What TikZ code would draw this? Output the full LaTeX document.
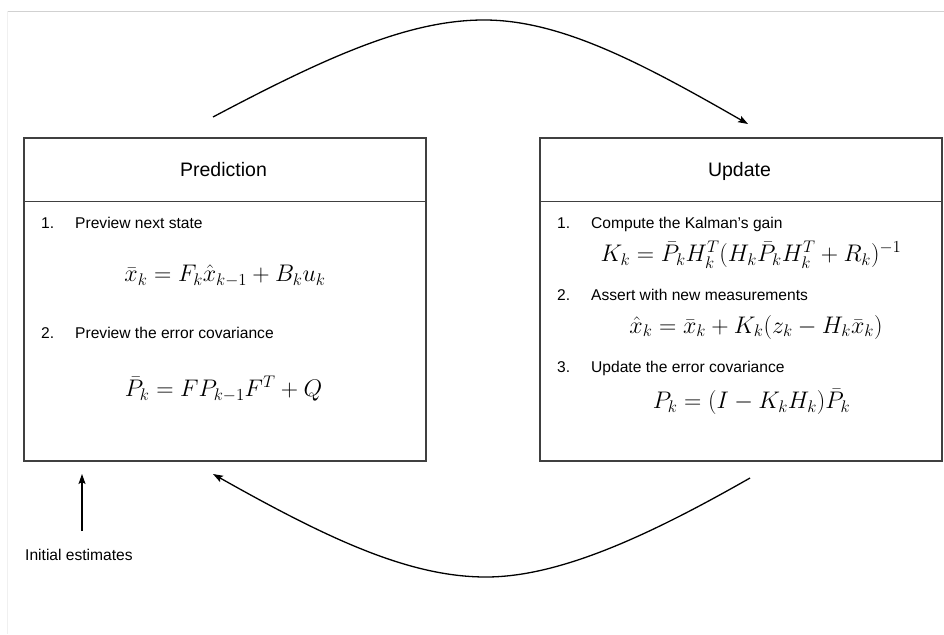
\RequirePackage{fix-cm}
\documentclass[tikz,border=0pt]{standalone}
\usepackage{amsmath}
\usepackage[no-math]{fontspec}
\setmainfont{Liberation Sans}
\usetikzlibrary{arrows.meta}
\tikzset{
 frame/.style={draw=black!75, line width=1.6pt, minimum width=402pt, minimum height=323pt, inner sep=0pt, anchor=north west},
 divider/.style={draw=black!75, line width=1.6pt},
 title/.style={font=\fontsize{19.5}{22}\selectfont, inner sep=0pt, anchor=base},
 item/.style={font=\fontsize{15.6}{18}\selectfont, inner sep=0pt, anchor=base west},
 eq/.style={font=\fontsize{24}{28}\selectfont, inner sep=0pt},
 flow/.style={line width=1.3pt, -{Stealth[length=10pt,width=7pt,inset=2pt]}},
}
\begin{document}
\begin{tikzpicture}[x=1pt,y=-1pt]
\useasboundingbox (0,0) rectangle (944,634);
\draw[black!18, line width=1pt] (7,11.5) -- (944,11.5);
\draw[black!6, line width=1pt] (7.5,11.5) -- (7.5,634);
% boxes
\node[frame] (pred) at (23,137) {};
\node[frame] (upd) at (539,137) {};
\draw[divider] (pred.west |- 0,201.5) -- (pred.east |- 0,201.5);
\draw[divider] (upd.west |- 0,201.5) -- (upd.east |- 0,201.5);
\node[title] (predT) at (223.5,176.5) {Prediction};
\node[title] (updT) at (739.5,176.5) {Update};
% prediction content
\node[item] (p1n) at (41,228.5) {1.};
\node[item] (p1t) at (75,228.5) {Preview next state};
\node[eq] (p1e) at (225,276) {$\bar{x}_k = F_k\hat{x}_{k-1} + B_k u_k$};
\node[item] (p2n) at (41,338) {2.};
\node[item] (p2t) at (75,338) {Preview the error covariance};
\node[eq] (p2e) at (223.5,389) {$\bar{P}_k = FP_{k-1}F^T + Q$};
% update content
\node[item] (u1n) at (557,228.5) {1.};
\node[item] (u1t) at (591,228.5) {Compute the Kalman's gain};
\node[eq] (u1e) at (751,255) {$K_k = \bar{P}_kH_k^T(H_k\bar{P}_kH_k^T + R_k)^{-1}$};
\node[item] (u2n) at (557,300.5) {2.};
\node[item] (u2t) at (591,300.5) {Assert with new measurements};
\node[eq] (u2e) at (756,327) {$\hat{x}_k = \bar{x}_k + K_k(z_k - H_k\bar{x}_k)$};
\node[item] (u3n) at (557,372.5) {3.};
\node[item] (u3t) at (591,372.5) {Update the error covariance};
\node[eq] (u3e) at (751.5,402) {$P_k = (I - K_kH_k)\bar{P}_k$};
% arcs
\coordinate (topS) at (213,117);
\coordinate (topM) at (484,20);
\coordinate (topE) at (748,124);
\draw[flow] (topS) .. controls (330,55) and (410,20) .. (topM) .. controls (560,20) and (640,62) .. (topE);
\coordinate (botS) at (750,478);
\coordinate (botM) at (486,577);
\coordinate (botE) at (213,474);
\draw[flow] (botS) .. controls (650,535) and (560,577) .. (botM) .. controls (410,577) and (330,540) .. (botE);
% initial estimates
\node[item] (init) at (25,560.5) {Initial estimates};
\coordinate (initS) at (82,531);
\coordinate (initE) at (82,474);
\draw[flow] (initS) -- (initE);
\end{tikzpicture}
\end{document}
